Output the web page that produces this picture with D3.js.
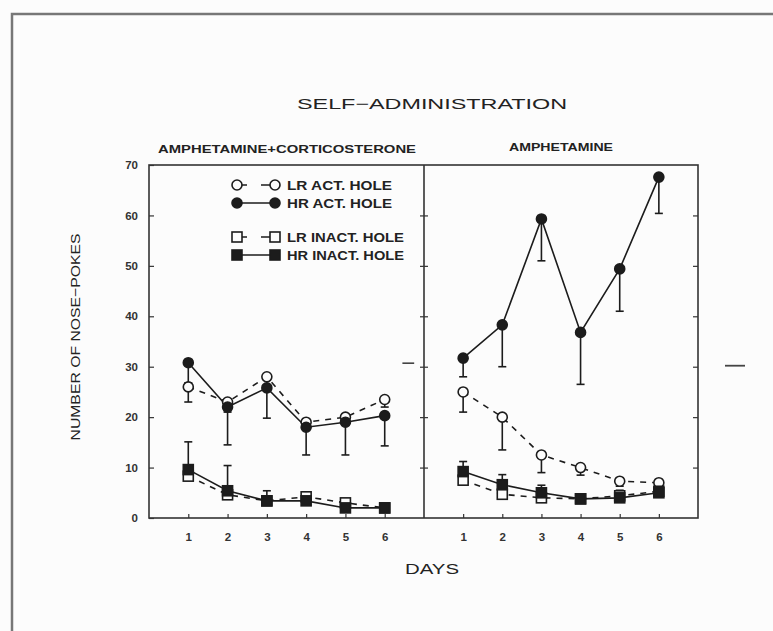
<!DOCTYPE html>
<html>
<head>
<meta charset="utf-8">
<script src="https://cdn.jsdelivr.net/npm/d3@7"></script>
<style>
  html, body { margin: 0; padding: 0; background: #fcfcfc; }
  svg { display: block; font-family: "Liberation Sans", Arial, sans-serif; }
</style>
</head>
<body>
<svg id="viz"></svg>
<script>
  const days = [1, 2, 3, 4, 5, 6];
  const yTicks = [0, 10, 20, 30, 40, 50, 60, 70];

  // left panel: amphetamine + corticosterone
  const leftLrAct = [26, 23, 28, 19, 20, 23.5];
  const leftLrActErr = [3, 2, 2, 1.5, 1.5, 1.5];
  const leftHrAct = [30.8, 22, 25.8, 18, 19, 20.3];
  const leftHrActErr = [4, 7.5, 6, 5.5, 6.5, 6];
  const leftLrInact = [8.3, 4.6, 3.4, 4.2, 3, 2];
  const leftLrInactErr = [1, 1, 1, 1, 0.5, 0.5];
  const leftHrInact = [9.6, 5.4, 3.4, 3.4, 2, 2];
  const leftHrInactErr = [5.5, 5, 2, 1.5, 0.5, 0.5];

  // right panel: amphetamine
  const rightLrAct = [25, 20, 12.5, 10, 7.3, 7];
  const rightLrActErr = [4, 6.5, 3.5, 1.5, 1, 1];
  const rightHrAct = [31.7, 38.3, 59.3, 36.8, 49.4, 67.6];
  const rightHrActErr = [3.7, 8.3, 8.3, 10.3, 8.4, 7.2];
  const rightLrInact = [7.5, 4.7, 4, 3.8, 4.4, 5.3];
  const rightLrInactErr = [1, 1, 1, 0.5, 1, 1];
  const rightHrInact = [9.2, 6.6, 5, 3.8, 4, 5];
  const rightHrInactErr = [2, 2, 1.5, 0.8, 1.5, 2.5];

  const legendLabels = ['LR ACT. HOLE', 'HR ACT. HOLE', 'LR INACT. HOLE', 'HR INACT. HOLE'];

  (function() {
    const W = 773, H = 631;
    const ink = '#1c1c1c';
    const pTop = 165, pBottom = 518, pLeft = 149, pMid = 424, pRight = 698;

    const svg = d3.select('#viz').attr('width', W).attr('height', H);
    svg.append('rect').attr('width', W).attr('height', H).attr('fill', '#fcfcfc');

    // scanned page frame
    svg.append('path')
      .attr('d', `M12,${H} V14 H${W}`)
      .attr('fill', 'none').attr('stroke', '#777').attr('stroke-width', 2.5);

    const y = d3.scaleLinear().domain([0, 70]).range([pBottom, pTop]);
    const xL = d3.scaleLinear().domain([0, 7]).range([pLeft, pMid]);
    const xR = d3.scaleLinear().domain([0, 7]).range([pMid, pRight]);

    // plot frame + divider
    svg.append('rect')
      .attr('x', pLeft).attr('y', pTop).attr('width', pRight - pLeft).attr('height', pBottom - pTop)
      .attr('fill', 'none').attr('stroke', '#333').attr('stroke-width', 1.6);
    svg.append('line')
      .attr('x1', pMid).attr('x2', pMid).attr('y1', pTop).attr('y2', pBottom)
      .attr('stroke', '#333').attr('stroke-width', 1.6);

    const font = '"Liberation Sans", Arial, sans-serif';

    // y axis
    const yAxis = svg.append('g').attr('transform', `translate(${pLeft},0)`)
      .call(d3.axisLeft(y).tickValues(yTicks).tickSizeInner(-5).tickSizeOuter(0).tickPadding(11));
    yAxis.select('.domain').remove();
    yAxis.selectAll('line').attr('stroke', '#333').attr('stroke-width', 1.2);
    yAxis.selectAll('text').attr('font-size', 11.5).attr('font-weight', 'bold').attr('fill', '#333')
      .attr('font-family', font);

    // ticks on divider (both sides) and right edge
    [[pMid, 4], [pMid, -4], [pRight, 5]].forEach(([px, size]) => {
      const g = svg.append('g').attr('transform', `translate(${px},0)`)
        .call(d3.axisLeft(y).tickValues(yTicks.slice(1, -1)).tickSizeInner(size).tickSizeOuter(0).tickFormat(''));
      g.select('.domain').remove();
      g.selectAll('line').attr('stroke', '#333').attr('stroke-width', 1.2);
    });

    // x axes
    [xL, xR].forEach(x => {
      const g = svg.append('g').attr('transform', `translate(0,${pBottom})`)
        .call(d3.axisBottom(x).tickValues(days).tickFormat(d3.format('d'))
          .tickSizeInner(-4).tickSizeOuter(0).tickPadding(15));
      g.select('.domain').remove();
      g.selectAll('line').attr('stroke', '#333').attr('stroke-width', 1.2);
      g.selectAll('text').attr('font-size', 11.5).attr('font-weight', 'bold').attr('fill', '#333')
        .attr('font-family', font);
    });

    // stray dashes in the scan
    svg.append('line').attr('x1', xL(6.45)).attr('x2', xL(6.75)).attr('y1', y(30.7)).attr('y2', y(30.7))
      .attr('stroke', '#444').attr('stroke-width', 1.6);
    svg.append('line').attr('x1', xR(7) + 27).attr('x2', xR(7) + 47).attr('y1', y(30.2)).attr('y2', y(30.2))
      .attr('stroke', '#444').attr('stroke-width', 1.8);

    // titles
    svg.append('text').attr('x', 432).attr('y', 109).attr('text-anchor', 'middle')
      .attr('font-size', 15).attr('fill', '#222')
      .attr('textLength', 270).attr('lengthAdjust', 'spacingAndGlyphs')
      .text('SELF\u2212ADMINISTRATION');
    svg.append('text').attr('x', 287).attr('y', 153).attr('text-anchor', 'middle')
      .attr('font-size', 11.5).attr('font-weight', 'bold').attr('fill', '#222')
      .attr('textLength', 258).attr('lengthAdjust', 'spacingAndGlyphs')
      .text('AMPHETAMINE+CORTICOSTERONE');
    svg.append('text').attr('x', 561).attr('y', 151).attr('text-anchor', 'middle')
      .attr('font-size', 11.5).attr('font-weight', 'bold').attr('fill', '#222')
      .attr('textLength', 104).attr('lengthAdjust', 'spacingAndGlyphs')
      .text('AMPHETAMINE');
    svg.append('text').attr('transform', 'translate(80,337) rotate(-90)').attr('text-anchor', 'middle')
      .attr('font-size', 13).attr('fill', '#222')
      .attr('textLength', 207).attr('lengthAdjust', 'spacingAndGlyphs')
      .text('NUMBER OF NOSE\u2212POKES');
    svg.append('text').attr('x', 432).attr('y', 574).attr('text-anchor', 'middle')
      .attr('font-size', 15).attr('fill', '#222')
      .attr('textLength', 54).attr('lengthAdjust', 'spacingAndGlyphs')
      .text('DAYS');

    // series definitions
    const style = {
      lrAct:   { shape: 'circle', open: true,  dash: '6,6', dir: -1 },
      hrAct:   { shape: 'circle', open: false, dash: null,  dir: -1 },
      lrInact: { shape: 'square', open: true,  dash: '6,6', dir: 1 },
      hrInact: { shape: 'square', open: false, dash: null,  dir: 1 }
    };
    const panels = [
      { x: xL, series: [
        { key: 'lrAct', v: leftLrAct, e: leftLrActErr },
        { key: 'lrInact', v: leftLrInact, e: leftLrInactErr },
        { key: 'hrAct', v: leftHrAct, e: leftHrActErr },
        { key: 'hrInact', v: leftHrInact, e: leftHrInactErr }
      ]},
      { x: xR, series: [
        { key: 'lrAct', v: rightLrAct, e: rightLrActErr },
        { key: 'lrInact', v: rightLrInact, e: rightLrInactErr },
        { key: 'hrAct', v: rightHrAct, e: rightHrActErr },
        { key: 'hrInact', v: rightHrInact, e: rightHrInactErr }
      ]}
    ];

    function marker(g, shape, open, cx, cy) {
      const m = shape === 'circle'
        ? g.append('circle').attr('cx', cx).attr('cy', cy).attr('r', 5)
        : g.append('rect').attr('x', cx - 5).attr('y', cy - 5).attr('width', 10).attr('height', 10);
      m.attr('fill', open ? '#fcfcfc' : ink).attr('stroke', ink).attr('stroke-width', 1.6);
    }

    panels.forEach(p => {
      const g = svg.append('g');
      // lines and error bars first
      p.series.forEach(s => {
        const st = style[s.key];
        const pts = days.map((d, i) => [d, s.v[i]]);
        g.append('path')
          .attr('d', d3.line().x(d => p.x(d[0])).y(d => y(d[1]))(pts))
          .attr('fill', 'none').attr('stroke', ink).attr('stroke-width', 1.6)
          .attr('stroke-dasharray', st.dash);
        days.forEach((d, i) => {
          const cx = p.x(d), y0 = y(s.v[i]), y1 = y(s.v[i] + st.dir * s.e[i]);
          g.append('line').attr('x1', cx).attr('x2', cx).attr('y1', y0).attr('y2', y1)
            .attr('stroke', ink).attr('stroke-width', 1.6);
          g.append('line').attr('x1', cx - 4).attr('x2', cx + 4).attr('y1', y1).attr('y2', y1)
            .attr('stroke', ink).attr('stroke-width', 1.6);
        });
      });
      p.series.forEach(s => {
        const st = style[s.key];
        days.forEach((d, i) => marker(g, st.shape, st.open, p.x(d), y(s.v[i])));
      });
    });

    // legend
    const legendKeys = ['lrAct', 'hrAct', 'lrInact', 'hrInact'];
    const legendY = [185, 203, 237, 255];
    const lg = svg.append('g');
    legendKeys.forEach((k, i) => {
      const st = style[k];
      const ly = legendY[i];
      lg.append('line').attr('x1', 237).attr('x2', 275).attr('y1', ly).attr('y2', ly)
        .attr('stroke', ink).attr('stroke-width', 1.6)
        .attr('stroke-dasharray', st.dash ? '10,14' : null);
      marker(lg, st.shape, st.open, 237, ly);
      marker(lg, st.shape, st.open, 275, ly);
      lg.append('text').attr('x', 287).attr('y', ly + 4.5)
        .attr('font-size', 12).attr('font-weight', 'bold').attr('fill', '#222')
        .attr('textLength', i < 2 ? 105 : 117).attr('lengthAdjust', 'spacingAndGlyphs')
        .text(legendLabels[i]);
    });
  })();
</script>
</body>
</html>
